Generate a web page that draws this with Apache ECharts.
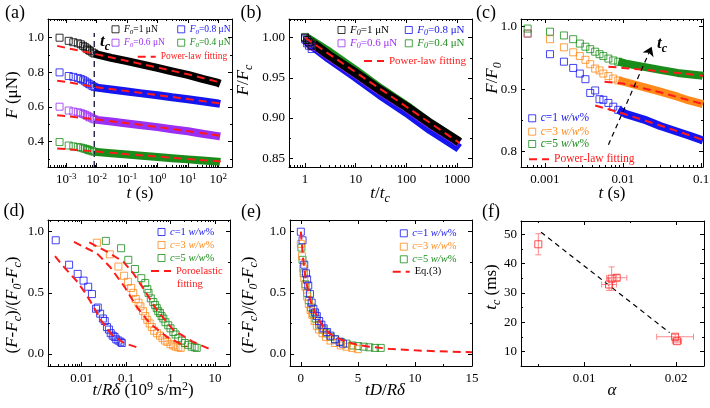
<!DOCTYPE html>
<html><head><meta charset="utf-8">
<script src="https://cdn.jsdelivr.net/npm/echarts@6/dist/echarts.min.js"></script>
<style>html,body{margin:0;padding:0;background:#fff}#c{width:710px;height:408px}</style>
</head><body><div id="c"></div>
<script>
const FONT = "'Liberation Serif','Times New Roman',Times,serif";
const COL = {black:'#000000', blue:'#1515f0', purple:'#9b30f5', green:'#1a8c1a', orange:'#ff8a1a', red:'#ff1a1a', err:'#ff8a8a'};

// ---------- Panel (a): F vs t ----------
const a_tSparse = [0.0006,0.0012,0.0017,0.0024,0.003,0.0036,0.0042,0.0048,0.0054,0.006,0.0072,0.0084];
const a_F1Sparse  = [1.000,0.982,0.974,0.968,0.962,0.953,0.945,0.937,0.930,0.924,0.915,0.909];
const a_F08Sparse = [0.800,0.779,0.774,0.768,0.762,0.755,0.748,0.741,0.735,0.730,0.722,0.716];
const a_F06Sparse = [0.602,0.580,0.574,0.570,0.565,0.560,0.555,0.550,0.545,0.540,0.534,0.529];
const a_F04Sparse = [0.398,0.378,0.373,0.369,0.366,0.362,0.359,0.356,0.352,0.349,0.345,0.342];
const a_tBand = [0.0084,0.01,0.03,0.1,0.3,1,3,10,30,100,115];
const a_F1Band  = [0.909,0.904,0.884,0.865,0.846,0.826,0.806,0.786,0.762,0.739,0.735];
const a_F08Band = [0.716,0.712,0.701,0.690,0.679,0.668,0.656,0.645,0.633,0.620,0.618];
const a_F06Band = [0.529,0.526,0.516,0.505,0.495,0.484,0.472,0.460,0.446,0.432,0.430];
const a_F04Band = [0.342,0.340,0.333,0.326,0.319,0.312,0.305,0.298,0.291,0.285,0.283];
const a_tFit = [0.0005,0.001,0.01,0.1,1,10,100,120];
const a_F1Fit  = [0.953,0.941,0.904,0.866,0.828,0.789,0.745,0.741];
const a_F08Fit = [0.752,0.745,0.714,0.692,0.669,0.646,0.622,0.619];
const a_F06Fit = [0.553,0.548,0.528,0.507,0.485,0.461,0.436,0.433];
const a_F04Fit = [0.361,0.357,0.343,0.328,0.314,0.300,0.287,0.285];
const a_tcT = [0.0083,0.0083];
const a_tcF = [0.254,1.027];
const a_xTicks = [1e-3,1e-2,1e-1,1,10,100];
const a_yTicks = [0.4,0.6,0.8,1.0];

// ---------- Panel (b): F/Fc vs t/tc ----------
const b_tStart = [1,1.1,1.2,1.35];
const b_F1Start  = [1.000,0.997,0.994,0.990];
const b_F08Start = [0.998,0.993,0.990,0.986];
const b_F06Start = [1.000,0.996,0.993,0.989];
const b_F04Start = [1.001,0.998,0.996,0.993];
const b_tBand = [1,3,10,30,100,300,1000,1100];
const b_F1Band  = [1.000,0.978,0.956,0.935,0.914,0.893,0.872,0.870];
const b_F08Band = [0.997,0.974,0.951,0.929,0.907,0.885,0.864,0.862];
const b_F06Band = [0.999,0.977,0.955,0.934,0.913,0.892,0.871,0.869];
const b_F04Band = [1.001,0.982,0.959,0.937,0.915,0.893,0.872,0.870];
const b_tFit = [1,10,100,1000,1100];
const b_Fit  = [1.000,0.957,0.914,0.871,0.869];
const b_xTicks = [1,10,100,1000];
const b_yTicks = [0.85,0.90,0.95,1.00];

// ---------- Panel (c): F/F0 vs t ----------
const c_tSparse = [0.0006,0.00116,0.00175,0.0023,0.0028,0.0033,0.0038,0.0044,0.005,0.0056,0.0065,0.0075,0.0087];
const c_c1Sparse = [0.989,0.956,0.944,0.934,0.925,0.916,0.894,0.898,0.884,0.883,0.878,0.872,0.867];
const c_c3Sparse = [0.989,0.980,0.967,0.959,0.953,0.947,0.940,0.933,0.930,0.925,0.921,0.917,0.914];
const c_c5Sparse = [0.997,0.992,0.986,0.980,0.973,0.968,0.964,0.960,0.956,0.953,0.949,0.946,0.944];
const c_tBand = [0.0087,0.011,0.02,0.03,0.05,0.07,0.1,0.106];
const c_c1Band = [0.867,0.860,0.850,0.841,0.832,0.826,0.819,0.818];
const c_c3Band = [0.914,0.911,0.902,0.896,0.888,0.882,0.877,0.876];
const c_c5Band = [0.944,0.941,0.935,0.931,0.926,0.924,0.922,0.921];
const c_c1FitT = [0.0044,0.01,0.03,0.1,0.106];
const c_c1Fit  = [0.874,0.861,0.842,0.820,0.818];
const c_c3FitT = [0.0058,0.01,0.03,0.1,0.106];
const c_c3Fit  = [0.912,0.909,0.895,0.877,0.876];
const c_c5FitT = [0.0065,0.01,0.03,0.1,0.106];
const c_c5Fit  = [0.936,0.934,0.929,0.922,0.921];
const c_arrowT = [0.0065,0.0233];
const c_arrowF = [0.811,0.968];
const c_xTicks = [0.001,0.01,0.1];
const c_yTicks = [0.8,0.9,1.0];

// ---------- Panel (d): normalized relaxation vs t/R delta ----------
const d_c1X = [0.0026,0.0052,0.0081,0.011,0.014,0.017,0.021,0.023,0.026,0.03,0.033,0.037,0.041,0.045,0.05,0.055,0.06,0.067,0.075,0.08];
const d_c1Y = [0.93,0.73,0.655,0.60,0.55,0.49,0.37,0.38,0.33,0.29,0.27,0.22,0.20,0.17,0.15,0.14,0.12,0.11,0.10,0.09];
const d_c3X = [0.022,0.043,0.067,0.09,0.11,0.13,0.145,0.165,0.19,0.21,0.24,0.27,0.3,0.34,0.38,0.43,0.5,0.58,0.66,0.75,0.85,1.0,1.15,1.3,1.5,1.7];
const d_c3Y = [0.91,0.815,0.715,0.64,0.59,0.54,0.50,0.45,0.42,0.39,0.35,0.31,0.28,0.25,0.22,0.19,0.17,0.15,0.13,0.11,0.10,0.08,0.07,0.06,0.055,0.05];
const d_c5X = [0.035,0.077,0.112,0.158,0.22,0.27,0.3,0.32,0.36,0.41,0.45,0.49,0.53,0.58,0.63,0.69,0.77,0.89,1.0,1.16,1.3,1.5,1.8,2.1,2.5,3.0,3.5,3.9];
const d_c5Y = [0.925,0.865,0.77,0.695,0.62,0.58,0.53,0.50,0.455,0.425,0.40,0.375,0.35,0.335,0.31,0.29,0.26,0.235,0.21,0.18,0.16,0.13,0.11,0.09,0.075,0.06,0.055,0.05];
const d_fit1X = [0.0025,0.004,0.008,0.012,0.017,0.028,0.047,0.09,0.19];
const d_fit1Y = [0.80,0.71,0.59,0.50,0.41,0.27,0.16,0.09,0.05];
const d_fit3X = [0.0067,0.022,0.043,0.094,0.172,0.345,0.82,2.3];
const d_fit3Y = [0.916,0.823,0.714,0.545,0.387,0.25,0.141,0.06];
const d_fit5X = [0.0148,0.037,0.086,0.145,0.244,0.49,1.16,3.2,9.2];
const d_fit5Y = [0.913,0.837,0.755,0.66,0.537,0.36,0.196,0.10,0.027];
const d_xTicks = [0.01,0.1,1,10];
const d_yTicks = [0,0.5,1.0];

// ---------- Panel (e): normalized relaxation vs tD/R delta ----------
const e_c1X = [0,0.15,0.3,0.45,0.55,0.65,0.8,0.95,1.1,1.25,1.4,1.6,1.8,2.0,2.3,2.6,3.0,3.4,3.7];
const e_c1Y = [1.0,0.93,0.73,0.66,0.61,0.56,0.49,0.42,0.37,0.34,0.31,0.27,0.24,0.21,0.18,0.15,0.12,0.10,0.085];
const e_c3X = [0,0.1,0.2,0.3,0.4,0.55,0.7,0.85,1.0,1.2,1.4,1.6,1.9,2.2,2.6,3.0,3.5,4.0,4.5,5.0];
const e_c3Y = [0.90,0.80,0.70,0.62,0.55,0.47,0.41,0.36,0.32,0.27,0.23,0.20,0.17,0.14,0.11,0.09,0.07,0.06,0.05,0.04];
const e_c5X = [0.05,0.15,0.25,0.4,0.55,0.7,0.9,1.1,1.3,1.6,1.9,2.2,2.6,3.0,3.5,4.0,4.5,5.0,5.5,6.0,6.5,7.0];
const e_c5Y = [0.87,0.77,0.66,0.57,0.50,0.44,0.38,0.33,0.29,0.24,0.20,0.17,0.14,0.12,0.10,0.085,0.07,0.065,0.06,0.055,0.05,0.05];
const e_eqX = [0,0.2,0.4,0.6,0.8,1.0,1.5,2.0,2.5,3,4,5,6,8,10,12,15];
const e_eqY = [1.0,0.78,0.63,0.53,0.45,0.39,0.29,0.22,0.17,0.14,0.10,0.075,0.06,0.04,0.03,0.022,0.015];
const e_xTicks = [0,5,10,15];
const e_yTicks = [0,0.5,1.0];

// ---------- Panel (f): tc vs alpha ----------
const f_alpha    = [0.00503,0.01272,0.0130,0.01355,0.0199,0.0201];
const f_tc       = [46.6,32.9,34.9,35.2,15.1,13.6];
const f_alphaErr = [0,0.0008,0,0.0011,0.002,0.0005];
const f_tcErr    = [3.6,2.0,4.0,1.0,0.8,0.6];
const f_lineA = [0.00533,0.0193];
const f_lineT = [50.7,16.5];
const f_xTicks = [0.01,0.02];
const f_yTicks = [10,20,30,40,50];

// ================= build =================
const zip = (xs, ys) => xs.map((x, i) => [x, ys[i]]);
const xAxes = [], yAxes = [], series = [], legends = [], graphics = [];
const grids = [
  {left:48, top:19, width:184, height:148},
  {left:289, top:19, width:183, height:148},
  {left:521, top:19, width:182, height:148},
  {left:48, top:220, width:182, height:146},
  {left:290, top:220, width:182, height:146},
  {left:521, top:221, width:183, height:145}
].map(g => Object.assign({show:false, containLabel:false, outerBoundsMode:'none'}, g));

function logMinors(min, max) {
  const out = [];
  for (let e = Math.floor(Math.log10(min)); e <= Math.ceil(Math.log10(max)); e++) {
    for (let k = 2; k <= 9; k++) { const v = k * Math.pow(10, e); if (v > min && v < max) out.push(v); }
  }
  return out;
}
const labRich = {
  b:{fontSize:13, fontFamily:FONT, lineHeight:16, color:'#000'},
  s:{fontSize:9, fontFamily:FONT, lineHeight:9, verticalAlign:'top', color:'#000'}
};
function axisSet(dim, g, o) {
  const isX = dim === 'x';
  const list = isX ? xAxes : yAxes;
  const pos = isX ? ['bottom','top'] : ['left','right'];
  const base = {gridIndex:g, type:o.type, min:o.min, max:o.max, splitLine:{show:false}, splitArea:{show:false},
    minorTick:{show:false}, minorSplitLine:{show:false}, silent:true, axisPointer:{show:false}};
  if (o.type === 'log') base.logBase = 10;
  const mainIdx = list.length;
  [0,1].forEach(side => {
    list.push(Object.assign({}, base, {position:pos[side],
      axisLine:{show:true, onZero:false, lineStyle:{color:'#000', width:1}},
      axisTick:{show:true, inside:true, length:4, customValues:o.majors, lineStyle:{color:'#000', width:1}},
      axisLabel: side === 0 ? {show:true, customValues:o.majors, formatter:o.fmt, margin:o.margin,
        color:'#000', fontFamily:FONT, fontSize:13, rich:labRich} : {show:false}
    }));
    list.push(Object.assign({}, base, {position:pos[side],
      axisLine:{show:false, onZero:false},
      axisTick:{show:true, inside:true, length:2, customValues:o.minors, lineStyle:{color:'#000', width:1}},
      axisLabel:{show:false}
    }));
  });
  return mainIdx;
}
const fmtPow = v => '{b|10}{s|' + Math.round(Math.log10(v)) + '}';
const fmtPlain = v => '{b|' + String(+(+v).toPrecision(3)) + '}';
const fmtFix = n => (v => '{b|' + (+v).toFixed(n) + '}');

const AX = [], AY = [];
AX[0] = axisSet('x',0,{type:'log', min:2.5e-4, max:282, majors:a_xTicks, minors:logMinors(2.5e-4,282), fmt:fmtPow, margin:5});
AY[0] = axisSet('y',0,{type:'value', min:0.254, max:1.108, majors:a_yTicks, minors:[0.3,0.5,0.7,0.9], fmt:fmtFix(1), margin:4});
AX[1] = axisSet('x',1,{type:'log', min:0.483, max:1968, majors:b_xTicks, minors:logMinors(0.483,1968), fmt:fmtPlain, margin:5});
AY[1] = axisSet('y',1,{type:'value', min:0.839, max:1.0233, majors:b_yTicks, minors:[0.875,0.925,0.975], fmt:fmtFix(2), margin:4});
AX[2] = axisSet('x',2,{type:'log', min:4.93e-4, max:0.106, majors:c_xTicks, minors:logMinors(4.93e-4,0.106), fmt:fmtPlain, margin:5});
AY[2] = axisSet('y',2,{type:'value', min:0.7755, max:1.0123, majors:c_yTicks, minors:[0.85,0.95], fmt:fmtFix(1), margin:4});
AX[3] = axisSet('x',3,{type:'log', min:1.74e-3, max:21.9, majors:d_xTicks, minors:logMinors(1.74e-3,21.9), fmt:fmtPlain, margin:5});
AY[3] = axisSet('y',3,{type:'value', min:-0.098, max:1.0957, majors:d_yTicks, minors:[0.25,0.75], fmt:fmtFix(1), margin:4});
AX[4] = axisSet('x',4,{type:'value', min:-0.95, max:15, majors:e_xTicks, minors:[2.5,7.5,12.5], fmt:fmtPlain, margin:5});
AY[4] = axisSet('y',4,{type:'value', min:-0.098, max:1.0957, majors:e_yTicks, minors:[0.25,0.75], fmt:fmtFix(1), margin:4});
AX[5] = axisSet('x',5,{type:'value', min:0.00315, max:0.02304, majors:f_xTicks, minors:[0.005,0.015], fmt:fmtFix(2), margin:5});
AY[5] = axisSet('y',5,{type:'value', min:5.14, max:54.53, majors:f_yTicks, minors:[15,25,35,45], fmt:fmtPlain, margin:4});

function sq(name, p, xs, ys, color) {
  series.push({type:'scatter', name, xAxisIndex:AX[p], yAxisIndex:AY[p], data:zip(xs, ys), symbol:'rect', symbolSize:7,
    itemStyle:{color:'rgba(0,0,0,0)', borderColor:color, borderWidth:1}, z:3, silent:true});
}
function band(name, p, xs, ys, color, w) {
  series.push({type:'line', name, xAxisIndex:AX[p], yAxisIndex:AY[p], data:zip(xs, ys), symbol:'none', showSymbol:false,
    lineStyle:{color, width:w || 8, cap:'butt', join:'round'}, z:2, silent:true});
}
function dash(name, p, xs, ys, color, w, pat, z) {
  series.push({type:'line', name, xAxisIndex:AX[p], yAxisIndex:AY[p], data:zip(xs, ys), symbol:'none', showSymbol:false,
    lineStyle:{color, width:w, type:pat}, z:z || 4, silent:true});
}
const FITN = 'Power-law fitting';
// (a)
band('a1b',0,a_tBand,a_F1Band,COL.black); band('a08b',0,a_tBand,a_F08Band,COL.blue);
band('a06b',0,a_tBand,a_F06Band,COL.purple); band('a04b',0,a_tBand,a_F04Band,COL.green);
sq('F0=1',0,a_tSparse,a_F1Sparse,COL.black); sq('F0=0.8',0,a_tSparse,a_F08Sparse,COL.blue);
sq('F0=0.6',0,a_tSparse,a_F06Sparse,COL.purple); sq('F0=0.4',0,a_tSparse,a_F04Sparse,COL.green);
dash(FITN,0,a_tFit,a_F1Fit,COL.red,2,[8,5]); dash(FITN,0,a_tFit,a_F08Fit,COL.red,2,[8,5]);
dash(FITN,0,a_tFit,a_F06Fit,COL.red,2,[8,5]); dash(FITN,0,a_tFit,a_F04Fit,COL.red,2,[8,5]);
dash('tc line a',0,a_tcT,a_tcF,'#111133',1.3,[6,4],3);
// (b)
band('b08b',1,b_tBand,b_F08Band,COL.blue,9); band('b04b',1,b_tBand,b_F04Band,COL.green,9);
band('b06b',1,b_tBand,b_F06Band,COL.purple,9); band('b1b',1,b_tBand,b_F1Band,COL.black,9);
sq('F0=0.8',1,b_tStart,b_F08Start,COL.blue); sq('F0=0.4',1,b_tStart,b_F04Start,COL.green);
sq('F0=0.6',1,b_tStart,b_F06Start,COL.purple); sq('F0=1',1,b_tStart,b_F1Start,COL.black);
dash(FITN,1,b_tFit,b_Fit,COL.red,2,[8,5]);
// (c)
band('c1b',2,c_tBand,c_c1Band,COL.blue); band('c3b',2,c_tBand,c_c3Band,COL.orange); band('c5b',2,c_tBand,c_c5Band,COL.green);
sq('c=1',2,c_tSparse,c_c1Sparse,COL.blue); sq('c=3',2,c_tSparse,c_c3Sparse,COL.orange); sq('c=5',2,c_tSparse,c_c5Sparse,COL.green);
dash(FITN,2,c_c1FitT,c_c1Fit,COL.red,2,[8,5]); dash(FITN,2,c_c3FitT,c_c3Fit,COL.red,2,[8,5]); dash(FITN,2,c_c5FitT,c_c5Fit,COL.red,2,[8,5]);
series.push({type:'line', name:'tc arrow', xAxisIndex:AX[2], yAxisIndex:AY[2], data:zip(c_arrowT,c_arrowF), symbol:'none',
  lineStyle:{width:0, opacity:0}, silent:true, z:5,
  markLine:{silent:true, symbol:['none','arrow'], symbolSize:9, label:{show:false}, emphasis:{disabled:true},
    lineStyle:{type:[5,4], color:'#000', width:1.2},
    data:[[{coord:[c_arrowT[0],c_arrowF[0]]},{coord:[c_arrowT[1],c_arrowF[1]]}]]}});
// (d)
sq('c=1',3,d_c1X,d_c1Y,COL.blue); sq('c=3',3,d_c3X,d_c3Y,COL.orange); sq('c=5',3,d_c5X,d_c5Y,COL.green);
dash('Poroelastic',3,d_fit1X,d_fit1Y,COL.red,2,[8,5]); dash('Poroelastic',3,d_fit3X,d_fit3Y,COL.red,2,[8,5]); dash('Poroelastic',3,d_fit5X,d_fit5Y,COL.red,2,[8,5]);
// (e)
sq('c=5',4,e_c5X,e_c5Y,COL.green); sq('c=3',4,e_c3X,e_c3Y,COL.orange); sq('c=1',4,e_c1X,e_c1Y,COL.blue);
dash('Eq.(3)',4,e_eqX,e_eqY,COL.red,2,[8,5]);
// (f)
dash('f fit',5,f_lineA,f_lineT,'#000',1.2,[5,4],2);
series.push({type:'custom', name:'err', xAxisIndex:AX[5], yAxisIndex:AY[5], silent:true, z:3,
  data: f_alpha.map((a, i) => [a, f_tc[i], f_alphaErr[i], f_tcErr[i]]),
  renderItem: function (params, api) {
    const x = api.value(0), y = api.value(1), ex = api.value(2), ey = api.value(3);
    const c = api.coord([x, y]);
    const st = {stroke:COL.err, lineWidth:1, fill:null};
    const ch = [];
    if (ey > 0) {
      const p1 = api.coord([x, y + ey]), p2 = api.coord([x, y - ey]);
      ch.push({type:'line', shape:{x1:c[0], y1:p1[1], x2:c[0], y2:p2[1]}, style:st});
      ch.push({type:'line', shape:{x1:c[0]-3, y1:p1[1], x2:c[0]+3, y2:p1[1]}, style:st});
      ch.push({type:'line', shape:{x1:c[0]-3, y1:p2[1], x2:c[0]+3, y2:p2[1]}, style:st});
    }
    if (ex > 0) {
      const q1 = api.coord([x - ex, y]), q2 = api.coord([x + ex, y]);
      ch.push({type:'line', shape:{x1:q1[0], y1:c[1], x2:q2[0], y2:c[1]}, style:st});
      ch.push({type:'line', shape:{x1:q1[0], y1:c[1]-3, x2:q1[0], y2:c[1]+3}, style:st});
      ch.push({type:'line', shape:{x1:q2[0], y1:c[1]-3, x2:q2[0], y2:c[1]+3}, style:st});
    }
    return {type:'group', children:ch};
  }});
sq('tc pts',5,f_alpha,f_tc,'#ff2020');

// ---------- legends ----------
function richFor(color, fs) {
  const sub = Math.round(fs * 0.7);
  return {
    n:{color, fontFamily:FONT, fontSize:fs, lineHeight:fs + 3},
    i:{color, fontFamily:FONT, fontSize:fs, fontStyle:'italic', lineHeight:fs + 3},
    s:{color, fontFamily:FONT, fontSize:sub, fontStyle:'italic', verticalAlign:'bottom', lineHeight:sub}
  };
}
function leg(name, text, left, cy, color, fs, isLine, w) {
  const lh = fs + 3;
  const item = {name};
  if (!isLine) { item.icon = 'rect'; item.itemStyle = {color:'rgba(0,0,0,0)', borderColor:color, borderWidth:1}; }
  else {
    item.lineStyle = {color:COL.red, width:2, type:[8,5]};
    item.itemStyle = {color:'rgba(0,0,0,0)', borderColor:'rgba(0,0,0,0)', borderWidth:0, opacity:0};
  }
  legends.push({show:true, left, top:cy - lh / 2, padding:0, itemGap:0, selectedMode:false, orient:'horizontal',
    itemWidth:isLine ? w : 7, itemHeight:7, data:[item], formatter:() => text,
    textStyle:{color, fontFamily:FONT, fontSize:fs, lineHeight:lh, rich:richFor(color, fs)}});
}
const Ftxt = v => '{i|F}{s|0}{n|=' + v + ' μN}';
const Ctxt = v => '{i|c}{n|=' + v + ' }{i|w/w}{n|%}';
leg('F0=1', Ftxt('1'), 111.5, 29.3, COL.black, 9.5);
leg('F0=0.8', Ftxt('0.8'), 177.2, 29.3, COL.blue, 9.5);
leg('F0=0.6', Ftxt('0.6'), 111.5, 42.7, COL.purple, 9.5);
leg('F0=0.4', Ftxt('0.4'), 177.2, 42.7, COL.green, 9.5);
leg(FITN, '{n|Power-law fitting}', 136.7, 56.7, COL.red, 9.5, true, 18);
leg('F0=1', Ftxt('1'), 337.5, 30, COL.black, 11);
leg('F0=0.8', Ftxt('0.8'), 404.8, 30, COL.blue, 11);
leg('F0=0.6', Ftxt('0.6'), 337.5, 43.3, COL.purple, 11);
leg('F0=0.4', Ftxt('0.4'), 404.8, 43.3, COL.green, 11);
leg(FITN, '{n|Power-law fitting}', 363, 61, COL.red, 11, true, 20);
leg('c=1', Ctxt('1'), 528.2, 118.3, COL.blue, 11.5);
leg('c=3', Ctxt('3'), 528.2, 131.7, COL.orange, 11.5);
leg('c=5', Ctxt('5'), 528.2, 144, COL.green, 11.5);
leg(FITN, '{n|Power-law fitting}', 528, 159.3, COL.red, 11.5, true, 20);
leg('c=1', Ctxt('1'), 157.5, 232, COL.blue, 10.5);
leg('c=3', Ctxt('3'), 157.5, 245, COL.orange, 10.5);
leg('c=5', Ctxt('5'), 157.5, 258, COL.green, 10.5);
leg('Poroelastic', '{n|Poroelastic}', 150, 271, COL.red, 10.5, true, 20);
leg('c=1', Ctxt('1'), 399.8, 233.3, COL.blue, 10.5);
leg('c=3', Ctxt('3'), 399.8, 246.7, COL.orange, 10.5);
leg('c=5', Ctxt('5'), 399.8, 259.3, COL.green, 10.5);
leg('Eq.(3)', '{n|Eq.(3)}', 391.7, 271.7, '#000', 10.5, true, 17);

// ---------- texts ----------
function titleRich(s) {
  const sub = Math.round(s * 0.68);
  return {
    n:{fontFamily:FONT, fontSize:s, lineHeight:s + 4, fill:'#000'},
    i:{fontFamily:FONT, fontSize:s, fontStyle:'italic', lineHeight:s + 4, fill:'#000'},
    bi:{fontFamily:FONT, fontSize:s, fontStyle:'italic', fontWeight:'bold', lineHeight:s + 4, fill:'#000'},
    s:{fontFamily:FONT, fontSize:sub, fontStyle:'italic', verticalAlign:'bottom', lineHeight:sub, fill:'#000'},
    bs:{fontFamily:FONT, fontSize:sub, fontStyle:'italic', fontWeight:'bold', verticalAlign:'bottom', lineHeight:sub, fill:'#000'},
    sn:{fontFamily:FONT, fontSize:sub, verticalAlign:'bottom', lineHeight:sub, fill:'#000'},
    p:{fontFamily:FONT, fontSize:sub, verticalAlign:'top', lineHeight:sub, fill:'#000'}
  };
}
function txt(x, y, text, s, rot, align, fill) {
  graphics.push({type:'text', x, y, rotation:rot || 0, silent:true, z:100,
    style:{text, fontFamily:FONT, fontSize:s, fill:fill || '#000', align:align || 'center', verticalAlign:'middle', rich:titleRich(s)}});
}
const R = Math.PI / 2;
txt(15, 13, '{n|(a)}', 18); txt(251, 13, '{n|(b)}', 18); txt(486, 13, '{n|(c)}', 18);
txt(14, 211, '{n|(d)}', 18); txt(251, 212, '{n|(e)}', 18); txt(491, 212, '{n|(f)}', 18);
txt(13, 95, '{i|F}{n| (μN)}', 17, R);
txt(140, 194, '{i|t}{n| (s)}', 17);
txt(244, 80, '{i|F}{n|/}{i|F}{s|c}', 17, R);
txt(380, 194, '{i|t}{n|/}{i|t}{s|c}', 17);
txt(493, 78, '{i|F}{n|/}{i|F}{s|0}', 17, R);
txt(612, 194, '{i|t}{n| (s)}', 17);
txt(13, 305, '{n|(}{i|F}{n|-}{i|F}{s|c}{n|)/(}{i|F}{s|0}{n|-}{i|F}{s|c}{n|)}', 17, R);
txt(143, 391, '{i|t}{n|/}{i|Rδ}{n| (10}{p|9}{n| s/m}{p|2}{n|)}', 17);
txt(249, 305, '{n|(}{i|F}{n|-}{i|F}{s|c}{n|)/(}{i|F}{s|0}{n|-}{i|F}{s|c}{n|)}', 17, R);
txt(385, 391, '{i|tD}{n|/}{i|Rδ}', 17);
txt(492, 287, '{i|t}{s|c}{n| (ms)}', 17, R);
txt(612, 391, '{i|α}', 17);
txt(105, 42, '{bi|t}{bs|c}', 17);
txt(662, 44, '{bi|t}{bs|c}', 17);
txt(177, 284, '{n|fitting}', 10.5, 0, 'left', COL.red);
graphics.forEach(g => { if (g.style.fill === COL.red) { const r = g.style.rich; Object.keys(r).forEach(k => r[k].fill = COL.red); } });

const chart = echarts.init(document.getElementById('c'), null, {renderer:'canvas', width:710, height:408});
chart.setOption({
  animation:false,
  backgroundColor:'#ffffff',
  textStyle:{fontFamily:FONT},
  grid:grids, xAxis:xAxes, yAxis:yAxes, series, legend:legends, graphic:graphics,
  tooltip:{show:false}
});
</script></body></html>
